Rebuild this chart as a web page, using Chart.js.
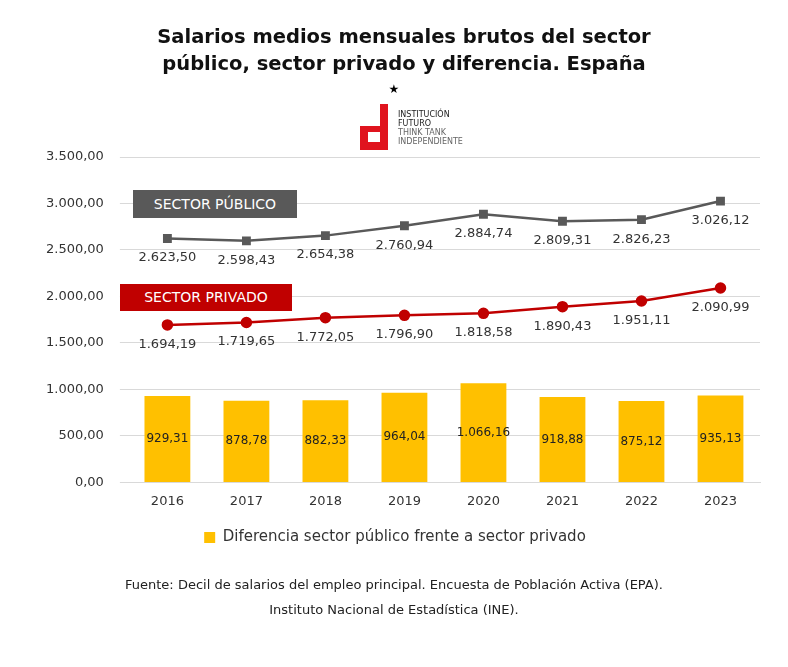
<!DOCTYPE html>
<html><head><meta charset="utf-8">
<script src="https://cdn.jsdelivr.net/npm/chart.js@4/dist/chart.umd.min.js"></script>
<style>
body{margin:0;background:#fff;font-family:"DejaVu Sans",sans-serif;}
#wrap{position:absolute;left:0;top:0;width:788px;height:667px;}
.t{position:absolute;left:0;width:788px;text-align:center;}
</style></head><body>
<div id="wrap"><canvas id="c"></canvas></div>
<div class="t" style="top:23px;left:10px;font-size:19.5px;font-weight:bold;line-height:27px;color:#111;">Salarios medios mensuales brutos del sector<br>público, sector privado y diferencia. España</div>
<div class="t" style="top:82px;font-size:12px;">★</div>
<div style="position:absolute;left:360px;top:104px;width:36px;height:46px;">
 <div style="position:absolute;left:20px;top:0;width:8px;height:46px;background:#e0141e"></div>
 <div style="position:absolute;left:0;top:38px;width:28px;height:8px;background:#e0141e"></div>
 <div style="position:absolute;left:0;top:22px;width:8px;height:16px;background:#e0141e"></div>
 <div style="position:absolute;left:8px;top:22px;width:12px;height:6px;background:#e0141e"></div>
</div>
<div style="position:absolute;left:398px;top:110px;font-size:8px;line-height:9px;color:#222;">INSTITUCIÓN<br>FUTURO<br><span style="color:#666">THINK TANK<br>INDEPENDIENTE</span></div>
<div style="position:absolute;left:133px;top:190px;width:164px;height:28px;background:#595959;color:#fff;font-size:14px;line-height:28px;text-align:center;">SECTOR PÚBLICO</div>
<div style="position:absolute;left:120px;top:284px;width:172px;height:27px;background:#c00000;color:#fff;font-size:14px;line-height:27px;text-align:center;">SECTOR PRIVADO</div>
<div class="t" style="top:572px;font-size:13px;line-height:25px;color:#222;">Fuente: Decil de salarios del empleo principal. Encuesta de Población Activa (EPA).<br>Instituto Nacional de Estadística (INE).</div>
<script>
const years=["2016","2017","2018","2019","2020","2021","2022","2023"];
const publico=[2623.50,2598.43,2654.38,2760.94,2884.74,2809.31,2826.23,3026.12];
const privado=[1694.19,1719.65,1772.05,1796.90,1818.58,1890.43,1951.11,2090.99];
const diferencia=[929.31,878.78,882.33,964.04,1066.16,918.88,875.12,935.13];
const fmt=v=>v.toLocaleString('de-DE',{minimumFractionDigits:2,maximumFractionDigits:2});
const labelPlugin={id:'lbl',afterDatasetsDraw(ch){
 const ctx=ch.ctx;ctx.save();ctx.font='13px "DejaVu Sans"';ctx.textAlign='center';ctx.fillStyle='#333';
 [0,1].forEach(i=>{ch.getDatasetMeta(i).data.forEach((p,j)=>{ctx.textBaseline='top';ctx.fillText(fmt(ch.data.datasets[i].data[j]),p.x,p.y+13);});});
 ctx.font='12px "DejaVu Sans"';ctx.textBaseline='middle';ctx.fillStyle='#222';
 ch.getDatasetMeta(2).data.forEach((b,j)=>{ctx.fillText(fmt(diferencia[j]),b.x,(b.y+b.base)/2);});
 ctx.restore();}};
new Chart(document.getElementById('c'),{
 data:{labels:years,datasets:[
  {type:'line',label:'Sector público',data:publico,borderColor:'#595959',backgroundColor:'#595959',borderWidth:2.5,pointStyle:'rect',pointRadius:4.5,order:0},
  {type:'line',label:'Sector privado',data:privado,borderColor:'#c00000',backgroundColor:'#c00000',borderWidth:2.5,pointRadius:4.5,order:1},
  {type:'bar',label:'Diferencia sector público frente a sector privado',data:diferencia,backgroundColor:'#ffc000',categoryPercentage:1,barPercentage:0.58,order:2}]},
 options:{responsive:true,maintainAspectRatio:false,animation:false,
  layout:{padding:{top:157,left:30,right:28,bottom:112}},
  plugins:{tooltip:{enabled:false},legend:{position:'bottom',labels:{filter:i=>i.datasetIndex===2,boxWidth:11,boxHeight:11,font:{size:15,family:'DejaVu Sans'},color:'#333',padding:18}}},
  scales:{x:{grid:{display:false},border:{color:'#d9d9d9'},ticks:{color:'#333',font:{size:13,family:'DejaVu Sans'}}},
   y:{min:0,max:3500,ticks:{stepSize:500,color:'#333',padding:16,font:{size:13,family:'DejaVu Sans'},callback:v=>fmt(v)},grid:{color:'#d9d9d9'},border:{display:false}}}},
 plugins:[labelPlugin]});
</script></body></html>
